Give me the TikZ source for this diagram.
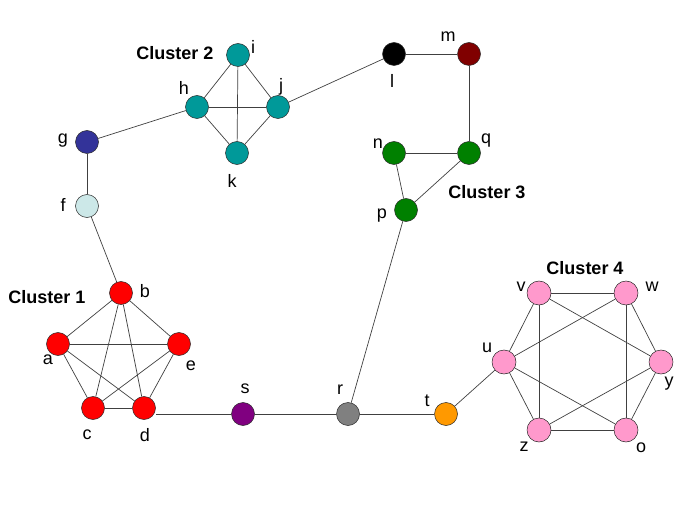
\documentclass[tikz,border=0pt]{standalone}
\usepackage{fontspec}
\setmainfont{Liberation Sans}
\definecolor{cred}{HTML}{FF0000}
\definecolor{cteal}{HTML}{009999}
\definecolor{cgreen}{HTML}{008000}
\definecolor{cpink}{HTML}{FF99CC}
\definecolor{cnavy}{HTML}{333399}
\definecolor{cice}{HTML}{CCE8E8}
\definecolor{cmaroon}{HTML}{800000}
\definecolor{cplum}{HTML}{800080}
\definecolor{cgrey}{HTML}{808080}
\definecolor{corange}{HTML}{FF9900}
\tikzset{vx/.style = {circle,draw=black!85,line width=0.5pt,minimum size=23pt,inner sep=0pt}}
\tikzset{k1/.style = {vx,fill=cred}}
\tikzset{k2/.style = {vx,fill=cteal}}
\tikzset{k3/.style = {vx,fill=cgreen}}
\tikzset{k4/.style = {vx,fill=cpink,minimum size=24pt}}
\tikzset{lbl/.style = {inner sep=0pt,font=\fontsize{18}{20}\selectfont}}
\tikzset{cl/.style = {lbl,font=\fontsize{18}{20}\selectfont\bfseries}}
\tikzset{edge/.style = {draw=black!75,line width=0.7pt}}

\begin{document}
\begin{tikzpicture}[x=1pt,y=-1pt]
      \useasboundingbox (0,0) rectangle (685,513);
      % cluster 1
      \node[k1] (a) at (58,344) {};
      \node[k1] (b) at (121,293) {};
      \node[k1] (c) at (93,408) {};
      \node[k1] (d) at (144,408) {};
      \node[k1] (e) at (179,344) {};
      % cluster 2
      \node[k2] (h) at (197,107) {};
      \node[k2] (i) at (238,55) {};
      \node[k2] (j) at (278,107) {};
      \node[k2] (k) at (237,153) {};
      % cluster 3
      \node[k3] (n) at (394,153) {};
      \node[k3] (q) at (469,153) {};
      \node[k3] (p) at (406,210) {};
      % cluster 4
      \node[k4] (u) at (504,362) {};
      \node[k4] (v) at (539,293) {};
      \node[k4] (w) at (626,293) {};
      \node[k4] (y) at (661,362) {};
      \node[k4] (o) at (626,430) {};
      \node[k4] (z) at (539,430) {};
      % single nodes
      \node[vx,fill=cnavy] (g) at (87,142) {};
      \node[vx,fill=cice] (f) at (87,206) {};
      \node[vx,fill=black] (l) at (394,54) {};
      \node[vx,fill=cmaroon] (m) at (469,54) {};
      \node[vx,fill=cplum] (s) at (243,414) {};
      \node[vx,fill=cgrey] (r) at (348,414) {};
      \node[vx,fill=corange] (t) at (446,414) {};

      % labels
      \node[lbl] (ta) at (48,360) {a};
      \node[lbl] (tb) at (145,291) {b};
      \node[lbl] (tc) at (87,435) {c};
      \node[lbl] (td) at (145,435) {d};
      \node[lbl] (te) at (191,366) {e};
      \node[lbl] (tf) at (63,205) {f};
      \node[lbl] (tg) at (63,141) {g};
      \node[lbl] (th) at (184,88) {h};
      \node[lbl] (ti) at (253,47) {i};
      \node[lbl] (tj) at (281,87) {j};
      \node[lbl] (tk) at (232,181) {k};
      \node[lbl] (tl) at (392,81) {l};
      \node[lbl] (tm) at (448,37) {m};
      \node[lbl] (tn) at (378,144) {n};
      \node[lbl] (to) at (641,448) {o};
      \node[lbl] (tp) at (382,216) {p};
      \node[lbl] (tq) at (486,141) {q};
      \node[lbl] (tr) at (340,390) {r};
      \node[lbl] (ts) at (245,389) {s};
      \node[lbl] (tt) at (427,401) {t};
      \node[lbl] (tu) at (487,348) {u};
      \node[lbl] (tv) at (521,287) {v};
      \node[lbl] (tw) at (652,287) {w};
      \node[lbl] (ty) at (669,384) {y};
      \node[lbl] (tz) at (524,447) {z};
      \node[cl] (cl1) at (47,297) {Cluster 1};
      \node[cl] (cl2) at (175,53) {Cluster 2};
      \node[cl] (cl3) at (487,192) {Cluster 3};
      \node[cl] (cl4) at (585,268) {Cluster 4};

 \foreach \a/\b in {a/b,a/c,a/d,a/e,b/c,b/d,b/e,c/d,c/e,d/e,
                    h/i,h/j,h/k,i/j,i/k,j/k,n/q,n/p,q/p,
                    u/v,v/w,w/y,y/o,o/z,z/u,v/z,w/o,v/y,u/w,u/o,z/y}
   \draw[edge] (\a) -- (\b);

 \foreach \a/\b in {b/f,f/g,g/h,j/l,l/m,m/q,p/r,s/r,r/t,t/u}
   \draw[edge] (\a) -- (\b);

 \draw[edge] (s) -- (s -| d.east);

    \end{tikzpicture}
\end{document}
